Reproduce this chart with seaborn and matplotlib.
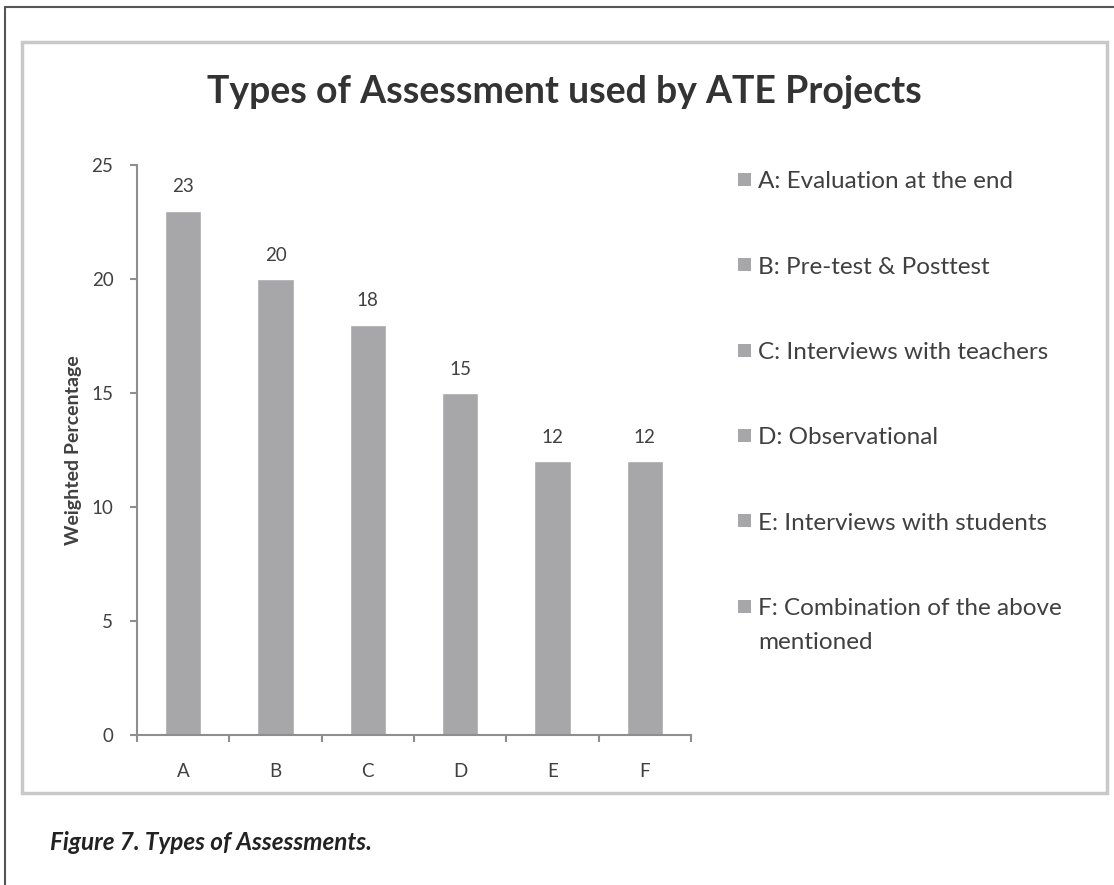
import matplotlib
matplotlib.use("Agg")
import matplotlib.pyplot as plt
import seaborn as sns
import pandas as pd
from matplotlib.lines import Line2D
from matplotlib.patches import Rectangle

sns.set_style("white")
plt.rcParams['font.family'] = ['Lato', 'DejaVu Sans']

categories = ["A", "B", "C", "D", "E", "F"]
values = [23, 20, 18, 15, 12, 12]
legend_labels = [
    "A: Evaluation at the end",
    "B: Pre-test & Posttest",
    "C: Interviews with teachers",
    "D: Observational",
    "E: Interviews with students",
    "F: Combination of the above\nmentioned",
]
title = "Types of Assessment used by ATE Projects"
ylabel = "Weighted Percentage"
caption = "Figure 7. Types of Assessments."

bar_color = "#a7a7a9"
text_color = "#404040"
axis_color = "#8e8e8e"
W, H = 1114, 885

df = pd.DataFrame({"cat": categories, "val": values})

fig = plt.figure(figsize=(W / 100, H / 100), dpi=100)
fig.patch.set_facecolor("white")

# page frame (left + top) and the chart's own box
fig.add_artist(Line2D([5 / W, 5 / W], [0, 1 - 7 / H], color="#555555", lw=1.5))
fig.add_artist(Line2D([5 / W, 1], [1 - 7 / H, 1 - 7 / H], color="#555555", lw=1.5))
fig.add_artist(Rectangle((22 / W, 1 - 793 / H), (1107 - 22) / W, (793 - 42) / H,
                         transform=fig.transFigure, fill=False,
                         edgecolor="#c8c8ca", lw=2.5))

ax = fig.add_axes([137 / W, 1 - 735 / H, (691 - 137) / W, (735 - 165) / H])
sns.barplot(data=df, x="cat", y="val", color=bar_color, width=0.39,
            saturation=1, ax=ax)

ax.set_xlim(-0.5, len(categories) - 0.5)
ax.set_ylim(0, 25)
ax.set_yticks(range(0, 26, 5))
ax.set_xlabel("")
ax.set_ylabel(ylabel, fontsize=14, fontweight="bold", color=text_color)
ax.yaxis.label.set_va("center")
ax.yaxis.set_label_coords((74 - 137) / (691 - 137), 0.5)

for s in ["top", "right"]:
    ax.spines[s].set_visible(False)
for s in ["left", "bottom"]:
    ax.spines[s].set_color(axis_color)
    ax.spines[s].set_linewidth(1.5)

ax.set_xticks(range(len(categories)), minor=False)
ax.set_xticks([i - 0.5 for i in range(len(categories) + 1)], minor=True)
ax.tick_params(axis="x", which="major", bottom=False, pad=17, labelsize=13.5,
               labelcolor=text_color)
ax.tick_params(axis="x", which="minor", bottom=True, length=5, width=1.5,
               color=axis_color, direction="out")
ax.tick_params(axis="y", left=True, length=5, width=1.5, color=axis_color,
               direction="out", pad=12, labelsize=13.5, labelcolor=text_color)

for c in ax.containers:
    ax.bar_label(c, padding=11, fontsize=13.5, color=text_color)

fig.text(564 / W, 1 - 92 / H, title, ha="center", va="center",
         fontsize=27, fontweight="bold", color="#333333")

# legend: one grey square per category, Excel-style spacing
for i, lab in enumerate(legend_labels):
    yc = 182 + i * 85.3
    fig.add_artist(Rectangle((738 / W, 1 - (yc + 4) / H), 13 / W, 13 / H,
                             transform=fig.transFigure, facecolor=bar_color,
                             edgecolor="none"))
    for j, line in enumerate(lab.split("\n")):
        fig.text(758 / W, 1 - (yc + j * 34) / H, line, ha="left", va="center",
                 fontsize=17.5, color=text_color)

fig.text(50 / W, 1 - 842 / H, caption, ha="left", va="center",
         fontsize=17.5, fontweight="bold", fontstyle="italic", color="#222222")

fig.savefig("out.png", dpi=100)
